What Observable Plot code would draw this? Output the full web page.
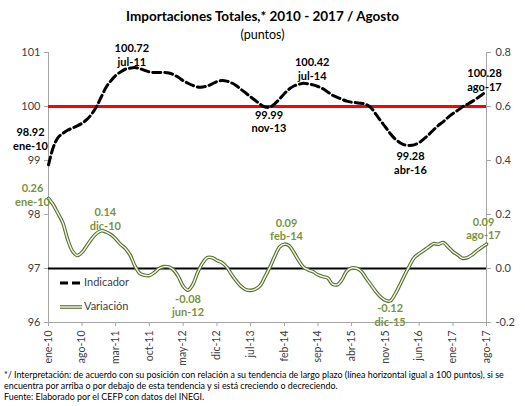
<!DOCTYPE html>
<html><head><meta charset="utf-8">
<script src="https://cdn.jsdelivr.net/npm/d3@7"></script>
<script src="https://cdn.jsdelivr.net/npm/@observablehq/plot@0.6"></script>
<style>
body{margin:0;background:#fff;font-family:Lato,"Noto Sans",sans-serif;}
#wrap{position:relative;width:525px;height:406px;overflow:hidden;background:#fff;}
#chart{position:absolute;left:0;top:0;}
.title{position:absolute;left:0;width:525px;text-align:center;top:8px;font-weight:bold;font-size:13.5px;color:#000;}
.sub{position:absolute;left:0;width:525px;text-align:center;top:27px;font-size:12.5px;color:#000;}
.note{position:absolute;left:4px;top:369px;font-size:8.9px;line-height:11px;color:#000;white-space:nowrap;}
#legend{position:absolute;left:58px;top:274px;}
</style></head><body>
<div id="wrap">
  <div id="chart"></div>
  <div class="title">Importaciones Totales,* 2010 - 2017 / Agosto</div>
  <div class="sub">(puntos)</div>
  <div id="legend">
    <svg width="100" height="45">
      <line x1="2" x2="22" y1="9" y2="9" stroke="#000" stroke-width="3" stroke-dasharray="8,4"/>
      <text x="26" y="9" dominant-baseline="middle" font-size="11" fill="#404040" font-family="Lato">Indicador</text>
      <line x1="2" x2="24" y1="33" y2="33" stroke="#5a6e2e" stroke-width="3.6"/>
      <line x1="2" x2="24" y1="33" y2="33" stroke="#f2f6e8" stroke-width="1.4"/>
      <text x="26" y="33" dominant-baseline="middle" font-size="11" fill="#404040" font-family="Lato">Variación</text>
    </svg>
  </div>
  <div class="note">*/ Interpretación: de acuerdo con su posición con relación a su tendencia de largo plazo (línea horizontal igual a 100 puntos), si se<br>encuentra por arriba o por debajo de esta tendencia y si está creciendo o decreciendo.<br>Fuente: Elaborado por el CEFP con datos del INEGI.</div>
</div>
<script>
const meses = ["ene","feb","mar","abr","may","jun","jul","ago","sep","oct","nov","dic"];
// Indicador (left axis), monthly ene-10 .. ago-17
const indicador = [
  98.92, 99.25, 99.42, 99.50, 99.56, 99.60, 99.64, 99.69, 99.76, 99.86, 100.00, 100.18,
  100.36, 100.48, 100.57, 100.64, 100.69, 100.71, 100.72, 100.70, 100.67, 100.64, 100.63, 100.63,
  100.63, 100.62, 100.59, 100.54, 100.48, 100.43, 100.39, 100.36, 100.36, 100.38, 100.42, 100.46,
  100.48, 100.47, 100.44, 100.39, 100.32, 100.25, 100.18, 100.11, 100.04, 99.99, 99.99, 100.05,
  100.14, 100.24, 100.32, 100.38, 100.41, 100.43, 100.42, 100.40, 100.37, 100.33, 100.27, 100.21,
  100.17, 100.13, 100.10, 100.08, 100.07, 100.06, 100.04, 99.98, 99.86, 99.74, 99.62, 99.50,
  99.40, 99.33, 99.29, 99.28, 99.29, 99.33, 99.40, 99.48, 99.57, 99.65, 99.72, 99.80,
  99.87, 99.93, 99.99, 100.04, 100.09, 100.15, 100.21, 100.28
];
// Variación (right axis)
const variacion = [
  0.26, 0.235, 0.205, 0.17, 0.11, 0.065, 0.048, 0.06, 0.085, 0.11, 0.13, 0.14,
  0.135, 0.125, 0.11, 0.09, 0.075, 0.05, 0.01, -0.018, -0.025, -0.026, -0.015, 0.0,
  0.007, 0.006, -0.005, -0.03, -0.065, -0.08, -0.06, -0.015, 0.02, 0.04, 0.04, 0.03,
  0.022, 0.005, -0.02, -0.045, -0.065, -0.078, -0.081, -0.076, -0.063, -0.03, 0.005, 0.045,
  0.08, 0.09, 0.085, 0.06, 0.03, 0.005, -0.005, -0.012, -0.024, -0.03, -0.035, -0.058,
  -0.06, -0.04, -0.01, 0.002, 0.001, -0.01, -0.035, -0.06, -0.085, -0.105, -0.118, -0.12,
  -0.095, -0.06, -0.025, 0.01, 0.04, 0.055, 0.067, 0.08, 0.092, 0.09, 0.096, 0.08,
  0.062, 0.05, 0.038, 0.04, 0.05, 0.065, 0.078, 0.09
];
const tickLabels = ["ene-10","ago-10","mar-11","oct-11","may-12","dic-12","jul-13","feb-14","sep-14","abr-15","nov-15","jun-16","ene-17","ago-17"];
const leftTicks = [96, 97, 98, 99, 100, 101];
const rightTicks = [-0.2, 0.0, 0.2, 0.4, 0.6, 0.8];
const tendencia = 100;
const cero = 0;
const indicadorEtiquetas = ["ene-10","jul-11","nov-13","jul-14","abr-16","ago-17"];
const variacionEtiquetas = ["ene-10","dic-10","jun-12","feb-14","dic-15","ago-17"];

const mesLabel = i => meses[i % 12] + "-" + String(10 + Math.floor(i / 12));
const fecha = i => new Date(Date.UTC(2010, i, 1));
// map right axis onto left axis scale
const y2 = d3.scaleLinear().domain([rightTicks[0], rightTicks[rightTicks.length-1]]).range([leftTicks[0], leftTicks[leftTicks.length-1]]);

const rows = indicador.map((v, i) => ({date: fecha(i), label: mesLabel(i), ind: v, vari: variacion[i], vy: y2(variacion[i])}));
const tickDates = tickLabels.map(l => rows.find(r => r.label === l).date);
const fmtDate = d => meses[d.getUTCMonth()] + "-" + String(d.getUTCFullYear()).slice(2);

// label offsets (px) for annotation blocks
const indOff = [[-18,-26],[-3,-13],[-1,14],[4,-15],[1,17],[-2,-12]];
const varOff = [[-16,-4],[4,-12],[0,15],[2,-15],[0,14],[-3,-16]];

const indLabelMarks = indicadorEtiquetas.map((l, k) => {
  const r = rows.find(d => d.label === l);
  return Plot.text([r], {x: "date", y: "ind", text: d => d.ind.toFixed(2) + "\n" + d.label,
    dx: indOff[k][0], dy: indOff[k][1], fontWeight: "bold", fontSize: 11, fill: "#000", lineHeight: 1.25});
});
const varLabelMarks = variacionEtiquetas.map((l, k) => {
  const r = rows.find(d => d.label === l);
  return Plot.text([r], {x: "date", y: "vy", text: d => d.vari.toFixed(2) + "\n" + d.label,
    dx: varOff[k][0], dy: varOff[k][1], fontWeight: "bold", fontSize: 11, fill: "#77933c", lineHeight: 1.25});
});

const chart = Plot.plot({
  width: 525, height: 406,
  marginTop: 52, marginBottom: 84, marginLeft: 48, marginRight: 39,
  style: {fontFamily: "Lato, 'Noto Sans', sans-serif", fontSize: "11px", background: "transparent"},
  x: {type: "utc", domain: [rows[0].date, rows[rows.length-1].date], label: null},
  y: {domain: [leftTicks[0], leftTicks[leftTicks.length-1]], label: null},
  marks: [
    Plot.ruleX([rows[0].date, rows[rows.length-1].date], {stroke: "#a6a6a6", strokeWidth: 1}),
    Plot.ruleY([leftTicks[0]], {stroke: "#a6a6a6", strokeWidth: 1}),
    Plot.axisY({ticks: leftTicks, tickFormat: d => String(d), tickSize: 4, tickPadding: 4, stroke: "#a6a6a6", fill: "#404040", fontSize: 11, label: null}),
    Plot.axisY({anchor: "right", ticks: rightTicks.map(y2), tickSize: 4, tickPadding: 5, stroke: "#a6a6a6", fill: "#404040", fontSize: 11, label: null,
      tickFormat: d => (Math.round(y2.invert(d) * 10) / 10).toFixed(1)}),
    Plot.axisX({ticks: tickDates, tickFormat: fmtDate, tickRotate: -90, tickSize: 4, tickPadding: 4, stroke: "#a6a6a6", fill: "#404040", fontSize: 10.5, label: null}),
    Plot.ruleY([tendencia], {stroke: "#ff0000", strokeWidth: 3}),
    Plot.ruleY([y2(cero)], {stroke: "#000", strokeWidth: 2}),
    Plot.line(rows, {x: "date", y: "vy", stroke: "#5a6e2e", strokeWidth: 3.6, curve: "catmull-rom"}),
    Plot.line(rows, {x: "date", y: "vy", stroke: "#f2f6e8", strokeWidth: 1.4, curve: "catmull-rom"}),
    Plot.line(rows, {x: "date", y: "ind", stroke: "#000", strokeWidth: 3, strokeDasharray: "8,4", curve: "catmull-rom"}),
    ...indLabelMarks,
    ...varLabelMarks
  ]
});
document.getElementById("chart").appendChild(chart);
</script>
</body></html>
